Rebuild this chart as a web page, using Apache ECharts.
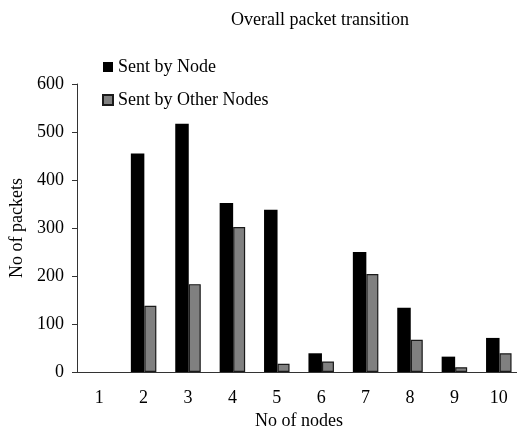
<!DOCTYPE html>
<html>
<head>
<meta charset="utf-8">
<script src="https://cdn.jsdelivr.net/npm/echarts@6/dist/echarts.min.js"></script>
<style>
  html, body { margin: 0; padding: 0; background: #fff; }
  #chart { width: 517px; height: 428px; }
</style>
</head>
<body>
<div id="chart"></div>
<script>
  // data
  var nodes = ['1', '2', '3', '4', '5', '6', '7', '8', '9', '10']
  var sentByNode = [0, 455, 517, 352, 338, 39, 250, 134, 32, 71]
  var sentByOthers = [0, 138, 183, 302, 17, 22, 204, 67, 10, 39]

  // zero bars are not drawn in the original, so drop their outline
  function toItems(arr) {
    return arr.map(function (v) {
      return v === 0 ? { value: v, itemStyle: { borderWidth: 0 } } : v
    })
  }

  var font = 'Liberation Serif, Times New Roman, serif'
  var chart = echarts.init(document.getElementById('chart'))
  chart.setOption({
    animation: false,
    textStyle: { fontFamily: font, color: '#000' },
    title: {
      text: 'Overall packet transition',
      left: 315,
      textAlign: 'center',
      top: 6,
      textStyle: { fontFamily: font, fontSize: 18, fontWeight: 'normal', color: '#000' }
    },
    legend: {
      orient: 'vertical',
      left: 97,
      top: 53,
      itemWidth: 10,
      itemHeight: 10,
      itemGap: 15,
      icon: 'rect',
      textStyle: { fontFamily: font, fontSize: 18, color: '#000' },
      data: ['Sent by Node', 'Sent by Other Nodes']
    },
    // the original plot runs a little past the right edge of the picture
    grid: { left: 77, right: -4, top: 84, bottom: 56, containLabel: false, outerBoundsMode: 'none' },
    xAxis: {
      type: 'category',
      data: nodes,
      name: 'No of nodes',
      nameLocation: 'middle',
      nameGap: 40,
      nameTextStyle: { fontFamily: font, fontSize: 18, color: '#000' },
      axisLine: { lineStyle: { color: '#333' } },
      axisTick: { length: 5, lineStyle: { color: '#333' } },
      axisLabel: { margin: 17, fontFamily: font, fontSize: 18, color: '#000' }
    },
    yAxis: {
      type: 'value',
      min: 0,
      max: 600,
      interval: 100,
      name: 'No of packets',
      nameLocation: 'middle',
      nameGap: 39,
      nameTextStyle: { fontFamily: font, fontSize: 18, color: '#000' },
      axisLine: { show: true, lineStyle: { color: '#333' } },
      axisTick: { show: true, length: 5, lineStyle: { color: '#333' } },
      axisLabel: { margin: 13, fontFamily: font, fontSize: 18, color: '#000' },
      splitLine: { show: false }
    },
    series: [{
      name: 'Sent by Node',
      type: 'bar',
      data: toItems(sentByNode),
      barWidth: 13.5,
      barGap: '0%',
      itemStyle: { color: '#000', borderWidth: 0 }
    }, {
      name: 'Sent by Other Nodes',
      type: 'bar',
      data: toItems(sentByOthers),
      barWidth: 12,
      barGap: '0%',
      itemStyle: { color: '#808080', borderColor: '#1a1a1a', borderWidth: 1.2 }
    }]
  })
</script>
</body>
</html>
